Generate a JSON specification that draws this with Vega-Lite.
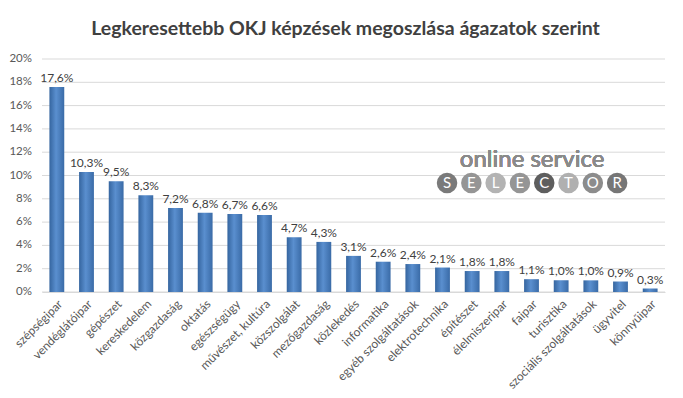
{
  "$schema": "https://vega.github.io/schema/vega-lite/v6.json",
  "width": 623,
  "height": 233,
  "autosize": {"type": "none"},
  "padding": {"left": 42, "top": 59, "right": 18, "bottom": 106},
  "background": "white",
  "config": {
    "locale": {"number": {"decimal": ",", "thousands": " ", "grouping": [3], "currency": ["", " Ft"]}},
    "view": {"stroke": null},
    "font": "Lato"
  },
  "title": {
    "text": "Legkeresettebb OKJ képzések megoszlása ágazatok szerint",
    "font": "Lato",
    "fontSize": 19.5,
    "fontWeight": "bold",
    "color": "#404040",
    "offset": 14,
    "dx": -8
  },
  "datasets": {
    "main": [
      {"agazat": "szépségipar", "arany": 0.176},
      {"agazat": "vendéglátóipar", "arany": 0.103},
      {"agazat": "gépészet", "arany": 0.095},
      {"agazat": "kereskedelem", "arany": 0.083},
      {"agazat": "közgazdaság", "arany": 0.072},
      {"agazat": "oktatás", "arany": 0.068},
      {"agazat": "egészségügy", "arany": 0.067},
      {"agazat": "művészet, kultúra", "arany": 0.066},
      {"agazat": "közszolgálat", "arany": 0.047},
      {"agazat": "mezőgazdaság", "arany": 0.043},
      {"agazat": "közlekedés", "arany": 0.031},
      {"agazat": "informatika", "arany": 0.026},
      {"agazat": "egyéb szolgáltatások", "arany": 0.024},
      {"agazat": "elektrotechnika", "arany": 0.021},
      {"agazat": "építészet", "arany": 0.018},
      {"agazat": "élelmiszeripar", "arany": 0.018},
      {"agazat": "faipar", "arany": 0.011},
      {"agazat": "turisztika", "arany": 0.010},
      {"agazat": "szociális szolgáltatások", "arany": 0.010},
      {"agazat": "ügyvitel", "arany": 0.009},
      {"agazat": "könnyűipar", "arany": 0.003}
    ],
    "racs": [
      {"v": 0.00, "felirat": "0%"},
      {"v": 0.02, "felirat": "2%"},
      {"v": 0.04, "felirat": "4%"},
      {"v": 0.06, "felirat": "6%"},
      {"v": 0.08, "felirat": "8%"},
      {"v": 0.10, "felirat": "10%"},
      {"v": 0.12, "felirat": "12%"},
      {"v": 0.14, "felirat": "14%"},
      {"v": 0.16, "felirat": "16%"},
      {"v": 0.18, "felirat": "18%"},
      {"v": 0.20, "felirat": "20%"}
    ],
    "logo": [
      {"i": 1, "betu": "S"},
      {"i": 2, "betu": "E"},
      {"i": 3, "betu": "L"},
      {"i": 4, "betu": "E"},
      {"i": 5, "betu": "C"},
      {"i": 6, "betu": "T"},
      {"i": 7, "betu": "O"},
      {"i": 8, "betu": "R"}
    ]
  },
  "layer": [
    {
      "data": {"name": "racs"},
      "layer": [
        {
          "mark": {"type": "rule", "color": "#d9d9d9", "strokeWidth": 1},
          "encoding": {
            "y": {"field": "v", "type": "quantitative", "scale": {"domain": [0, 0.2], "nice": false}, "axis": null}
          }
        },
        {
          "mark": {"type": "text", "align": "right", "baseline": "middle", "dx": -10, "fontSize": 11.5, "color": "#595959", "font": "Lato"},
          "encoding": {
            "x": {"datum": 0, "type": "quantitative", "scale": {"domain": [0, 1], "nice": false}, "axis": null},
            "y": {"field": "v", "type": "quantitative"},
            "text": {"field": "felirat"}
          }
        }
      ]
    },
    {
      "data": {"name": "main"},
      "layer": [
        {
          "mark": {
            "type": "bar",
            "color": {
              "gradient": "linear",
              "x1": 0, "x2": 1, "y1": 0, "y2": 0,
              "stops": [
                {"offset": 0, "color": "#35659f"},
                {"offset": 0.45, "color": "#5a8fcf"},
                {"offset": 1, "color": "#3a6ba7"}
              ]
            }
          },
          "encoding": {
            "x": {
              "field": "agazat",
              "type": "nominal",
              "sort": null,
              "scale": {"paddingInner": 0.5, "paddingOuter": 0.25},
              "axis": {
                "title": null,
                "labelAngle": -45,
                "labelFontSize": 12,
                "labelColor": "#595959",
                "labelFont": "Lato",
                "ticks": false,
                "domainColor": "#d9d9d9",
                "labelPadding": 6
              }
            },
            "y": {
              "field": "arany",
              "type": "quantitative",
              "scale": {"domain": [0, 0.2], "nice": false},
              "axis": null
            }
          }
        },
        {
          "mark": {"type": "text", "dy": -9, "fontSize": 12, "color": "#404040", "font": "Lato"},
          "encoding": {
            "x": {"field": "agazat", "type": "nominal", "sort": null},
            "y": {"field": "arany", "type": "quantitative"},
            "text": {"field": "arany", "type": "quantitative", "format": ".1%"}
          }
        }
      ]
    },
    {
      "data": {"name": "logo"},
      "layer": [
        {
          "mark": {"type": "point", "shape": "circle", "filled": true, "size": 420, "opacity": 1},
          "encoding": {
            "x": {
              "field": "i", "type": "quantitative",
              "scale": {"domain": [-15.67, 9.97], "nice": false, "zero": false},
              "axis": null
            },
            "y": {"datum": 0.0936, "type": "quantitative", "scale": {"domain": [0, 0.2], "nice": false}, "axis": null},
            "color": {
              "field": "betu", "type": "nominal", "legend": null,
              "scale": {"domain": ["S", "E", "L", "C", "T", "O", "R"], "range": ["#7a7a7a", "#959595", "#b3b3b3", "#5e5e5e", "#b0b0b0", "#8c8c8c", "#767676"]}
            }
          }
        },
        {
          "mark": {"type": "text", "fontSize": 15, "color": "white", "font": "Lato"},
          "encoding": {
            "x": {"field": "i", "type": "quantitative"},
            "y": {"datum": 0.0936, "type": "quantitative"},
            "text": {"field": "betu"}
          }
        },
        {
          "mark": {"type": "text", "fontSize": 24, "color": "#8a8a8a", "font": "Lato", "text": "online service"},
          "encoding": {
            "x": {"datum": 4.5, "type": "quantitative"},
            "y": {"datum": 0.113, "type": "quantitative"}
          }
        }
      ]
    }
  ],
  "resolve": {"scale": {"x": "independent", "y": "independent", "color": "independent"}, "axis": {"x": "independent", "y": "independent"}}
}
